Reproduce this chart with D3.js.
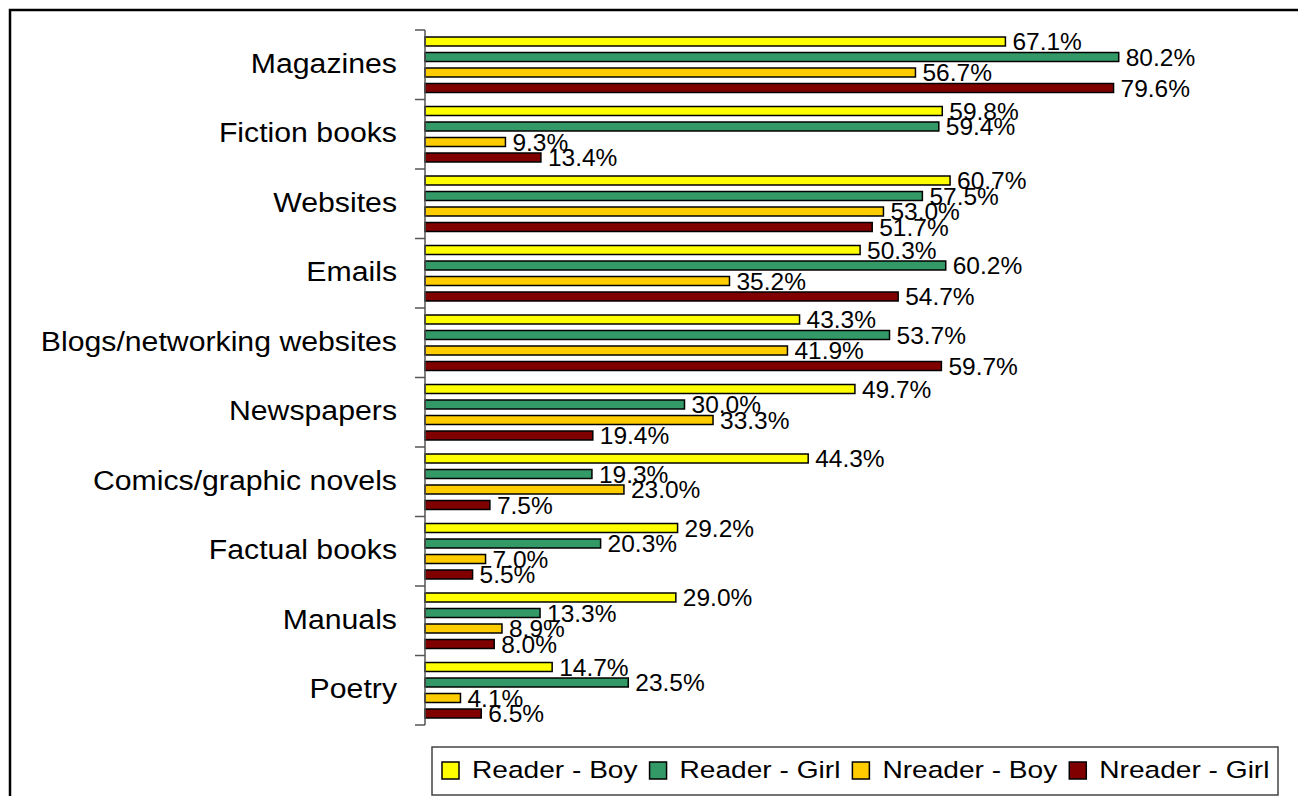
<!DOCTYPE html>
<html>
<head>
<meta charset="utf-8">
<script src="https://cdn.jsdelivr.net/npm/d3@7"></script>
<style>
  body { margin: 0; background: #fff; }
  text { font-family: "Liberation Sans", Arial, sans-serif; }
</style>
</head>
<body>
<div id="chart"></div>
<script>
const categories = ["Magazines", "Fiction books", "Websites", "Emails", "Blogs/networking websites",
  "Newspapers", "Comics/graphic novels", "Factual books", "Manuals", "Poetry"];
const series = ["Reader - Boy", "Reader - Girl", "Nreader - Boy", "Nreader - Girl"];
const readerBoy = [67.1, 59.8, 60.7, 50.3, 43.3, 49.7, 44.3, 29.2, 29.0, 14.7];
const readerGirl = [80.2, 59.4, 57.5, 60.2, 53.7, 30.0, 19.3, 20.3, 13.3, 23.5];
const nreaderBoy = [56.7, 9.3, 53.0, 35.2, 41.9, 33.3, 23.0, 7.0, 8.9, 4.1];
const nreaderGirl = [79.6, 13.4, 51.7, 54.7, 59.7, 19.4, 7.5, 5.5, 8.0, 6.5];
const colors = ["#FFFF00", "#339966", "#FFCC00", "#800000"];

const values = [readerBoy, readerGirl, nreaderBoy, nreaderGirl];
const rows = [];
categories.forEach((c, i) => {
  series.forEach((s, j) => rows.push({ cat: c, ser: s, val: values[j][i], idx: j }));
});

const width = 1298;
const height = 796;

const svg = d3.select("#chart")
  .append("svg")
  .attr("width", width)
  .attr("height", height);

// outer frame
svg.append("rect")
  .attr("x", 10)
  .attr("y", 10)
  .attr("width", width)
  .attr("height", height)
  .attr("fill", "none")
  .attr("stroke", "#000")
  .attr("stroke-width", 2.5);

const x = d3.scaleLinear()
  .domain([0, 100])
  .range([425, 1290]);

const y = d3.scaleBand()
  .domain(categories)
  .range([30, 725])
  .padding(0);

const inner = d3.scaleBand()
  .domain(series)
  .range([3.75, y.bandwidth() - 3.75])
  .paddingInner(0.42)
  .paddingOuter(0.21);

// bars
svg.selectAll(".bar")
  .data(rows)
  .enter()
  .append("rect")
  .attr("class", "bar")
  .attr("x", x(0))
  .attr("y", d => y(d.cat) + inner(d.ser))
  .attr("width", d => x(d.val) - x(0))
  .attr("height", inner.bandwidth())
  .attr("fill", d => colors[d.idx])
  .attr("stroke", "#000")
  .attr("stroke-width", 1.5);

// value labels
svg.selectAll(".val")
  .data(rows)
  .enter()
  .append("text")
  .attr("class", "val")
  .attr("x", d => x(d.val) + 7)
  .attr("y", d => y(d.cat) + inner(d.ser) + inner.bandwidth() / 2 + 8.5)
  .style("font-size", "24.5px")
  .style("fill", "#000")
  .text(d => d.val.toFixed(1) + "%");

// category axis
svg.append("line")
  .attr("x1", x(0)).attr("x2", x(0))
  .attr("y1", y.range()[0]).attr("y2", y.range()[1])
  .attr("stroke", "#555")
  .attr("stroke-width", 1.5);

const tickPos = categories.map(c => y(c)).concat([y.range()[1]]);
svg.selectAll(".tick")
  .data(tickPos)
  .enter()
  .append("line")
  .attr("class", "tick")
  .attr("x1", x(0) - 10).attr("x2", x(0))
  .attr("y1", d => d).attr("y2", d => d)
  .attr("stroke", "#555")
  .attr("stroke-width", 1.5);

svg.selectAll(".cat")
  .data(categories)
  .enter()
  .append("text")
  .attr("class", "cat")
  .attr("text-anchor", "end")
  .attr("transform", d => `translate(397,${y(d) + y.bandwidth() / 2 + 8}) scale(1.12,1)`)
  .style("font-size", "27px")
  .style("fill", "#000")
  .text(d => d);

// legend
const legend = svg.append("g");
legend.append("rect")
  .attr("x", 432)
  .attr("y", 747)
  .attr("width", 846)
  .attr("height", 48)
  .attr("fill", "#fff")
  .attr("stroke", "#444")
  .attr("stroke-width", 1.5);

let cx = 442;
series.forEach((s, j) => {
  legend.append("rect")
    .attr("x", cx)
    .attr("y", 762)
    .attr("width", 17)
    .attr("height", 17)
    .attr("fill", colors[j])
    .attr("stroke", "#000")
    .attr("stroke-width", 1.5);
  const t = legend.append("text")
    .attr("transform", `translate(${cx + 30},778) scale(1.147,1)`)
    .style("font-size", "24.5px")
    .style("fill", "#000")
    .text(s);
  cx += 30 + t.node().getComputedTextLength() * 1.147 + 12;
});
</script>
</body>
</html>
